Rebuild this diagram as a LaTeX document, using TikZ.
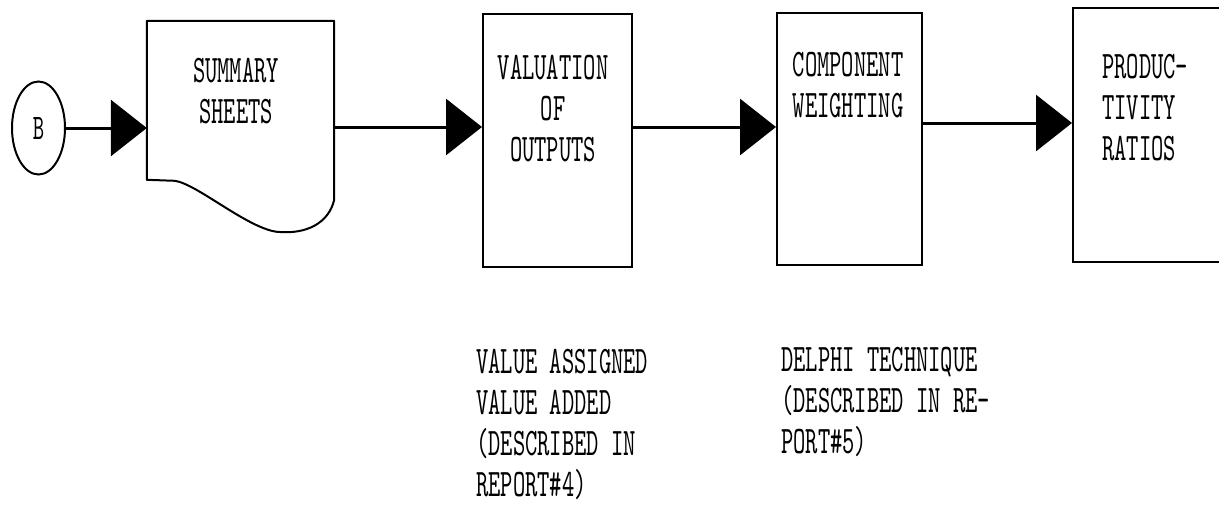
\documentclass[tikz,border=0pt]{standalone}
\usepackage{fontspec}
\newfontfamily\typefont[Extension=.otf,FakeStretch=0.6]{lmmono10-regular}
\usetikzlibrary{arrows.meta,shapes.geometric,calc}

\begin{document}
\begin{tikzpicture}[x=1pt,y=-1pt,
  box/.style={draw,line width=2pt,rectangle,inner sep=0pt},
  frame/.style={line width=2pt,line join=round},
  conn/.style={line width=3pt,-{Triangle[length=36pt,width=56pt]}},
  lbl/.style={font={\typefont\fontsize{39}{41}\selectfont},inner sep=0pt},
  small/.style={font={\typefont\fontsize{36}{38}\selectfont}}
]
\useasboundingbox (0,0) rectangle (1219,512);
\clip (0,0) rectangle (1219,512);

% connector circle
\node[ellipse,draw,line width=2pt,minimum width=53pt,minimum height=93pt,
      inner sep=0pt,small] (B) at (38.5,128) {B};

% document symbol: summary sheets
\node[rectangle,minimum width=187pt,minimum height=212pt,inner sep=0pt]
     (sum) at (240.5,127) {};
\draw[frame] (sum.north west) -- (sum.north east)
  -- ($(sum.north east)+(0,179)$)
  .. controls ($(sum.north west)+(182,202)$) and ($(sum.north west)+(160,214)$) ..
     ($(sum.north west)+(130,211)$)
  .. controls ($(sum.north west)+(100,207)$) and ($(sum.north west)+(50,163)$) ..
     ($(sum.north west)+(28,160)$)
  -- ($(sum.north west)+(0,159)$) -- cycle;
% (base anchor = baseline of the last line)
\node[lbl,align=center,anchor=base] (sumt) at (236,123) {SUMMARY\\SHEETS};

% process boxes
\node[box,minimum width=149pt,minimum height=253pt] (val) at (557.5,140.5) {};
\node[lbl,align=center,anchor=base] (valt) at (553,161) {VALUATION\\OF\\OUTPUTS};

\node[box,minimum width=145pt,minimum height=252pt] (comp) at (849.5,139) {};
\node[lbl,align=center,anchor=base] (compt) at (848,117) {COMPONENT\\WEIGHTING};

\node[box,minimum width=167pt,minimum height=254pt] (prod) at (1156.5,135) {};
\node[lbl,align=left,anchor=base west] (prodt) at (1102,160) {PRODUC-\\TIVITY\\RATIOS};

% notes under the boxes
\node[lbl,align=left,anchor=base west] (note1) at (476,496)
  {VALUE ASSIGNED\\VALUE ADDED\\(DESCRIBED IN\\REPORT\#4)};
\node[lbl,align=left,anchor=base west] (note2) at (781,453)
  {DELPHI TECHNIQUE\\(DESCRIBED IN RE-\\PORT\#5)};

% flow
\coordinate (lev) at (0,123);
\draw[conn] (B.east) -- (B.east -| sum.west);
\draw[conn] (sum.east) -- (sum.east -| val.west);
\draw[conn] (val.east |- sum.east) -- (sum.east -| comp.west);
\draw[conn] (comp.east |- lev) -- (lev -| prod.west);
\end{tikzpicture}
\end{document}
